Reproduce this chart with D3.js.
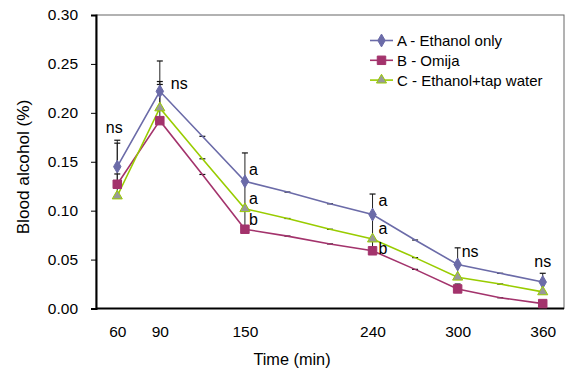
<!DOCTYPE html>
<html>
<head>
<meta charset="utf-8">
<script src="https://cdn.jsdelivr.net/npm/d3@7/dist/d3.min.js"></script>
<style>
  html, body { margin: 0; padding: 0; background: #fff; }
  svg { display: block; font-family: "Liberation Sans", Arial, sans-serif; }
</style>
</head>
<body>
<svg id="chart" width="566" height="371"></svg>
<script>
// Sampling times (min); markers only appear at the main time points
const times = [60, 90, 120, 150, 180, 210, 240, 270, 300, 330, 360];
const markerTimes = [60, 90, 150, 240, 300, 360];
const tickTimes = [60, 90, 150, 240, 300, 360];
const yTicks = [0, 0.05, 0.10, 0.15, 0.20, 0.25, 0.30];

const seriesNames = ["A - Ethanol only", "B - Omija", "C - Ethanol+tap water"];

// Blood alcohol (%) per group, one value per sampling time
const ethanolOnly = [0.145, 0.222, 0.176, 0.130, 0.119, 0.107, 0.096, 0.070, 0.045, 0.036, 0.027];
const omija       = [0.127, 0.192, 0.137, 0.081, 0.074, 0.066, 0.059, 0.040, 0.020, 0.011, 0.005];
const tapWater    = [0.115, 0.205, 0.153, 0.102, 0.092, 0.081, 0.071, 0.052, 0.032, 0.025, 0.017];

// Upper end of each error bar (%)
const ethanolOnlyErr = [0.172, 0.253, 0.176, 0.159, 0.119, 0.107, 0.117, 0.070, 0.062, 0.036, 0.036];
const omijaErr       = [0.1375, 0.229, 0.137, 0.102, 0.074, 0.066, 0.071, 0.040, 0.025, 0.011, 0.008];
const tapWaterErr    = [0.169, 0.232, 0.153, 0.130, 0.092, 0.081, 0.096, 0.052, 0.045, 0.025, 0.027];

// Significance letters: time, value at the text baseline, text
const sigTimes  = [60, 90, 150, 150, 150, 240, 240, 240, 300, 360];
const sigValues = [0.1795, 0.2245, 0.1365, 0.1065, 0.0855, 0.105, 0.0765, 0.056, 0.0525, 0.042];
const sigTexts  = ["ns", "ns", "a", "a", "b", "a", "a", "b", "ns", "ns"];

const svg = d3.select("#chart");
const plotLeft = 96, plotRight = 564, plotTop = 15, plotBottom = 308.5;

const x = d3.scaleLinear().domain([45, 375]).range([plotLeft, plotRight]);
const y = d3.scaleLinear().domain([0, 0.30]).range([plotBottom, plotTop]);

const styles = [
  { color: "#6b6ba8", fill: "#6b6ba8", stroke: "#6b6ba8", shape: d3.symbolDiamond, size: 48 },
  { color: "#a3336c", fill: "#a3336c", stroke: "#a3336c", shape: d3.symbolSquare, size: 72 },
  { color: "#99cc00", fill: "#999999", stroke: "#99cc00", shape: d3.symbolTriangle, size: 44 }
];

const series = [
  { name: seriesNames[0], values: ethanolOnly, err: ethanolOnlyErr },
  { name: seriesNames[1], values: omija, err: omijaErr },
  { name: seriesNames[2], values: tapWater, err: tapWaterErr }
];

// Plot frame
svg.append("rect")
  .attr("x", plotLeft).attr("y", plotTop)
  .attr("width", plotRight - plotLeft).attr("height", plotBottom - plotTop)
  .attr("fill", "none").attr("stroke", "#666").attr("stroke-width", 1);

// Y axis
const yAxis = svg.append("g")
  .attr("transform", `translate(${plotLeft},0)`)
  .call(d3.axisLeft(y).tickValues(yTicks).tickFormat(d3.format(".2f")).tickSize(5).tickPadding(13));
yAxis.select(".domain").attr("stroke", "#000").attr("stroke-width", 2);
yAxis.selectAll(".tick line").attr("stroke", "#000").attr("stroke-width", 1);
yAxis.selectAll(".tick text").attr("font-size", 15.5).attr("fill", "#000")
  .attr("font-family", "Liberation Sans, Arial, sans-serif");

// X axis (labels only, no tick marks)
const xAxis = svg.append("g")
  .attr("transform", `translate(0,${plotBottom})`)
  .call(d3.axisBottom(x).tickValues(tickTimes).tickSize(0).tickPadding(17).tickSizeOuter(0));
xAxis.select(".domain").attr("d", `M${plotLeft},0H${plotRight}`).attr("stroke", "#000").attr("stroke-width", 2);
xAxis.selectAll(".tick text").attr("font-size", 15.5).attr("fill", "#000")
  .attr("font-family", "Liberation Sans, Arial, sans-serif");

// Axis titles
svg.append("text")
  .attr("x", (plotLeft + plotRight) / 2 - 38).attr("y", 365)
  .attr("text-anchor", "middle").attr("font-size", 16.3).attr("fill", "#000")
  .text("Time (min)");
svg.append("text")
  .attr("transform", `translate(29,${167}) rotate(-90)`)
  .attr("text-anchor", "middle").attr("font-size", 17.2).attr("fill", "#000")
  .text("Blood alcohol (%)");

// Error bars (upper only)
const capW = 3;
series.forEach(s => {
  const g = svg.append("g");
  times.forEach((t, i) => {
    const v = s.values[i], e = s.err[i];
    if (e > v) {
      g.append("line")
        .attr("x1", x(t)).attr("x2", x(t))
        .attr("y1", y(v)).attr("y2", y(e))
        .attr("stroke", "#222").attr("stroke-width", 1);
    }
    g.append("line")
      .attr("x1", x(t) - capW).attr("x2", x(t) + capW)
      .attr("y1", y(e)).attr("y2", y(e))
      .attr("stroke", "#111").attr("stroke-width", 1.2);
  });
});

// Lines and markers
const line = d3.line().x(d => x(d[0])).y(d => y(d[1]));
series.forEach((s, k) => {
  const st = styles[k];
  const pts = times.map((t, i) => [t, s.values[i]]);
  svg.append("path")
    .attr("d", line(pts))
    .attr("fill", "none").attr("stroke", st.color).attr("stroke-width", 1.6);
});
series.forEach((s, k) => {
  const st = styles[k];
  const pts = times.map((t, i) => [t, s.values[i]]).filter(p => markerTimes.includes(p[0]));
  svg.append("g").selectAll("path").data(pts).join("path")
    .attr("transform", d => `translate(${x(d[0])},${y(d[1])})`)
    .attr("d", d3.symbol().type(st.shape).size(st.size))
    .attr("fill", st.fill).attr("stroke", st.stroke).attr("stroke-width", 1);
});

// Significance letters
sigTimes.forEach((t, i) => {
  const centered = (i === 0 || i === sigTimes.length - 1);
  svg.append("text")
    .attr("x", centered ? x(t) - (i === 0 ? 3 : 0) : x(t) + (t === 90 ? 11 : (t === 240 ? 6 : 4)))
    .attr("y", y(sigValues[i]))
    .attr("text-anchor", centered ? "middle" : "start")
    .attr("font-size", 16).attr("fill", "#000")
    .text(sigTexts[i]);
});

// Legend
const legend = svg.append("g");
series.forEach((s, k) => {
  const st = styles[k];
  const cy = 40.5 + k * 19.8;
  legend.append("line")
    .attr("x1", 370).attr("x2", 393).attr("y1", cy).attr("y2", cy)
    .attr("stroke", st.color).attr("stroke-width", 1.6);
  legend.append("path")
    .attr("transform", `translate(381.5,${cy})`)
    .attr("d", d3.symbol().type(st.shape).size(st.size))
    .attr("fill", st.fill).attr("stroke", st.stroke).attr("stroke-width", 1);
  legend.append("text")
    .attr("x", 397).attr("y", cy + 5.5)
    .attr("font-size", 15).attr("fill", "#000")
    .text(s.name);
});
</script>
</body>
</html>
